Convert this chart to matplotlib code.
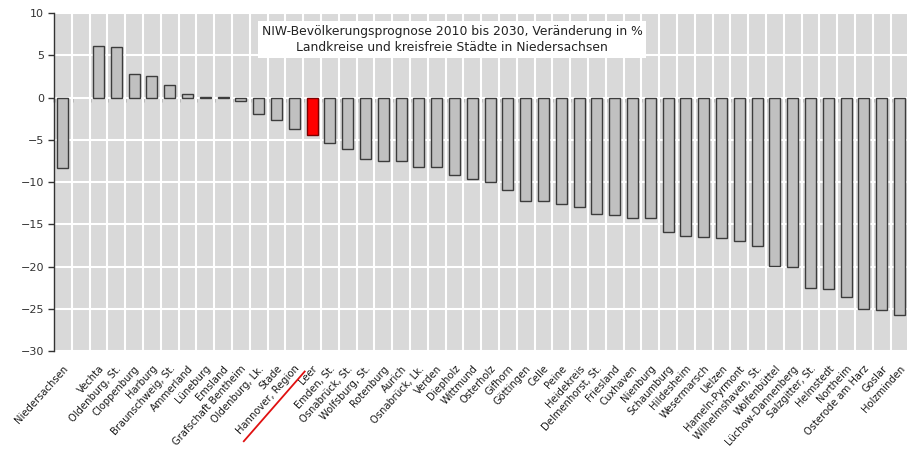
import matplotlib
matplotlib.use("Agg")
import matplotlib.pyplot as plt
from matplotlib.lines import Line2D
import numpy as np

# Projected population change 2010-2030 (%), Lower Saxony districts and cities
regions = [
    "Niedersachsen", "", "Vechta", "Oldenburg, St.", "Cloppenburg", "Harburg",
    "Braunschweig, St.", "Ammerland", "Lüneburg", "Emsland",
    "Grafschaft Bentheim", "Oldenburg, Lk.", "Stade", "Hannover, Region",
    "Leer", "Emden, St.", "Osnabrück, St.", "Wolfsburg, St.", "Rotenburg",
    "Aurich", "Osnabrück, Lk.", "Verden", "Diepholz", "Wittmund",
    "Osterholz", "Gifhorn", "Göttingen", "Celle", "Peine", "Heidekreis",
    "Delmenhorst, St.", "Friesland", "Cuxhaven", "Nienburg", "Schaumburg",
    "Hildesheim", "Wesermarsch", "Uelzen", "Hameln-Pyrmont",
    "Wilhelmshaven, St.", "Wolfenbüttel", "Lüchow-Dannenberg",
    "Salzgitter, St.", "Helmstedt", "Northeim", "Osterode am Harz",
    "Goslar", "Holzminden",
]
# the empty slot separates the state total from the districts
change_pct = [
    -8.3, np.nan, 6.1, 6.0, 2.8, 2.5,
    1.5, 0.4, 0.1, 0.1,
    -0.4, -2.0, -2.7, -3.7,
    -4.4, -5.4, -6.1, -7.3, -7.5,
    -7.5, -8.2, -8.2, -9.2, -9.7,
    -10.0, -10.9, -12.2, -12.3, -12.6, -13.0,
    -13.8, -13.9, -14.3, -14.3, -15.9,
    -16.4, -16.5, -16.6, -17.0,
    -17.6, -19.9, -20.1,
    -22.6, -22.7, -23.6, -25.0,
    -25.2, -25.7,
]
highlight = "Leer"
underlined = "Hannover, Region"
y_ticks = [10, 5, 0, -5, -10, -15, -20, -25, -30]

fig = plt.figure(figsize=(9.07, 4.5), dpi=100)
ax = fig.add_axes([0.0595, 0.22, 0.942, 0.751])
ax.set_facecolor("#d9d9d9")

x = np.arange(len(regions))
colors = ["#ff0000" if r == highlight else "#c0c0c0" for r in regions]
edges = ["#7a0000" if r == highlight else "#3c3c3c" for r in regions]
ax.bar(x, change_pct, width=0.62, color=colors, edgecolor=edges,
       linewidth=1.0, zorder=3)

ax.set_xlim(-0.5, len(regions) - 0.5)
ax.set_ylim(-30, 10)

# white grid: horizontal at the y ticks, vertical at category boundaries
ax.set_yticks(y_ticks)
ax.set_xticks(x)
ax.set_xticks(np.arange(len(regions)) - 0.5, minor=True)
ax.grid(True, which="major", axis="y", color="white", linewidth=1.5, zorder=1)
ax.grid(True, which="minor", axis="x", color="white", linewidth=1.5, zorder=1)
ax.set_axisbelow(True)

ax.set_xticklabels(regions, rotation=48, ha="right", rotation_mode="anchor",
                   fontsize=7.2, color="#1a1a1a")
ax.tick_params(axis="x", which="both", length=0, pad=9)
ax.tick_params(axis="y", length=4, width=1.0, color="#333333",
               labelsize=8, labelcolor="#333333", pad=3)

for side in ("top", "right", "bottom"):
    ax.spines[side].set_visible(False)
ax.spines["left"].set_color("#333333")
ax.spines["left"].set_linewidth(1.0)

# zero line with small boundary ticks
zero_frac = (0 - (-30)) / (10 - (-30))
sec = ax.secondary_xaxis(zero_frac)
sec.set_xticks(np.arange(len(regions)) - 0.5)
sec.tick_params(axis="x", direction="out", length=3, width=1.0,
                color="#333333", labelbottom=False, labeltop=False,
                bottom=True, top=False)
sec.spines["bottom"].set_color("#333333")
sec.spines["bottom"].set_linewidth(1.3)
sec.spines["top"].set_visible(False)

ax.text(0.466, 0.966,
        "NIW-Bevölkerungsprognose 2010 bis 2030, Veränderung in %\n"
        "Landkreise und kreisfreie Städte in Niedersachsen",
        transform=ax.transAxes, ha="center", va="top", fontsize=8.9,
        color="#222222", linespacing=1.32, zorder=5,
        bbox=dict(boxstyle="square,pad=0.32", facecolor="white",
                  edgecolor="none"))

# red underline beneath the rotated label of the Hannover region
fig.canvas.draw()
renderer = fig.canvas.get_renderer()
lbl = ax.get_xticklabels()[regions.index(underlined)]
bb = lbl.get_window_extent(renderer)
W, H = fig.bbox.width, fig.bbox.height
x0, y0 = bb.x0 + 9, bb.y0 - 5
x1, y1 = bb.x1 + 3, bb.y1 - 8
fig.add_artist(Line2D([x0 / W, x1 / W], [y0 / H, y1 / H],
                      transform=fig.transFigure, color="#e01010",
                      linewidth=1.3))

fig.savefig("out.png", dpi=100, facecolor="white")
